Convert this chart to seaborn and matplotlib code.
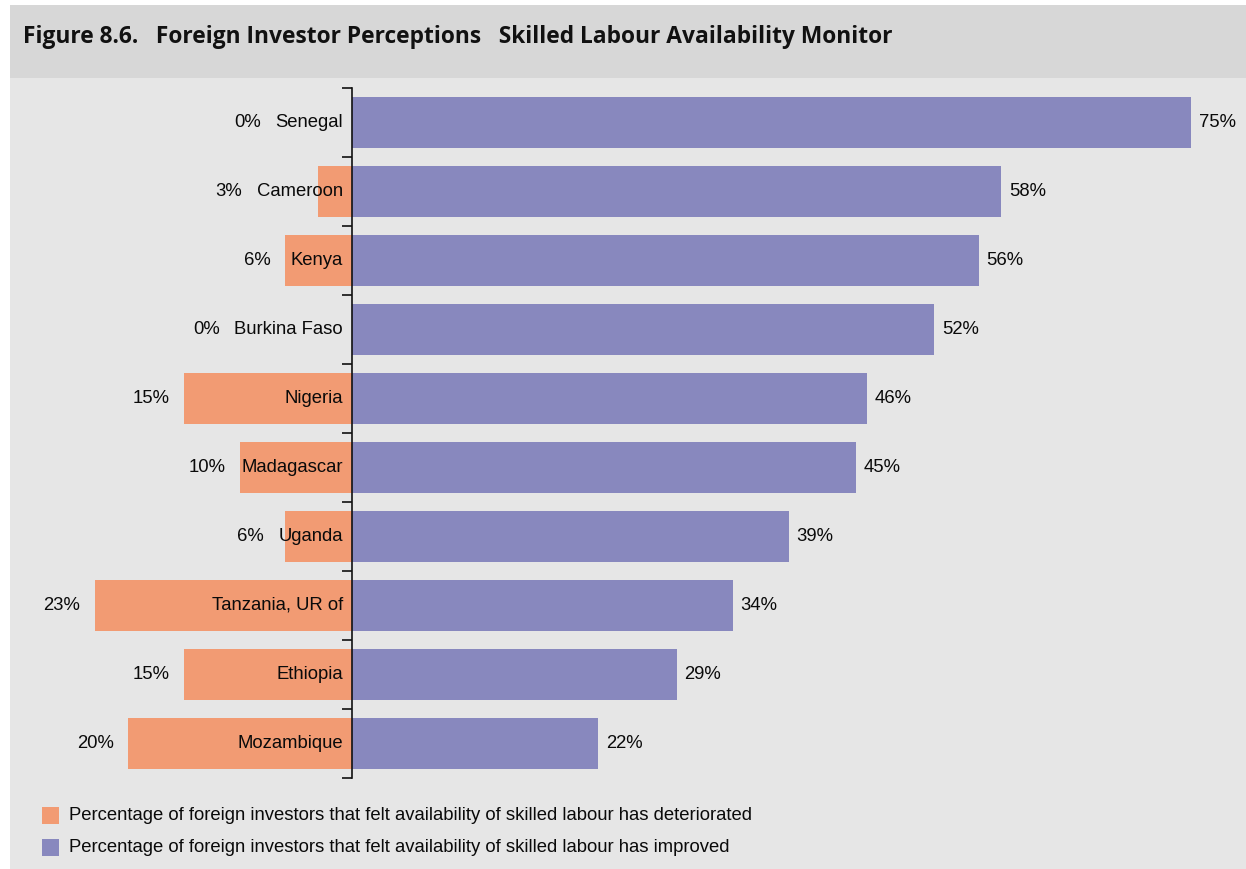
import matplotlib
matplotlib.use("Agg")
import matplotlib.pyplot as plt
import seaborn as sns
import pandas as pd
from matplotlib.patches import Rectangle

# data
countries = ["Senegal", "Cameroon", "Kenya", "Burkina Faso", "Nigeria",
             "Madagascar", "Uganda", "Tanzania, UR of", "Ethiopia", "Mozambique"]
improved = [75, 58, 56, 52, 46, 45, 39, 34, 29, 22]
deteriorated = [0, 3, 6, 0, 15, 10, 6, 23, 15, 20]

title = "Figure 8.6.   Foreign Investor Perceptions   Skilled Labour Availability Monitor"
lab_det = "Percentage of foreign investors that felt availability of skilled labour has deteriorated"
lab_imp = "Percentage of foreign investors that felt availability of skilled labour has improved"

orange = "#F29B73"
purple = "#8888BE"

df = pd.DataFrame({"country": countries, "improved": improved,
                   "deteriorated": [-d for d in deteriorated]})

sns.set_style("white")
plt.rcParams["font.family"] = ["Liberation Sans", "DejaVu Sans"]

fig = plt.figure(figsize=(12.46, 8.69), dpi=100)
W, H = 1246, 869
# background panels (behind the axes)
fig.patches.append(Rectangle((10 / W, 0), 1 - 10 / W, (H - 78) / H, transform=fig.transFigure,
                             facecolor="#E6E6E6", edgecolor="none", zorder=-2))
fig.patches.append(Rectangle((10 / W, (H - 78) / H), 1 - 10 / W, 73 / H, transform=fig.transFigure,
                             facecolor="#D7D7D7", edgecolor="none", zorder=-2))
fig.text(23 / W, 1 - 37 / H, title, fontsize=16.4, fontweight="bold", va="center", ha="left",
         family=["Open Sans", "DejaVu Sans"], color="#111111")

ax = fig.add_axes([38.7 / W, 91 / H, (1225 - 38.7) / W, 690 / H])
ax.patch.set_alpha(0)
sns.barplot(data=df, x="improved", y="country", orient="h", color=purple,
            width=0.75, saturation=1, linewidth=0, ax=ax)
sns.barplot(data=df, x="deteriorated", y="country", orient="h", color=orange,
            width=0.75, saturation=1, linewidth=0, ax=ax)
ax.set_xlim(-28, 78)
ax.set_ylim(len(countries) - 0.5, -0.5)

for s in ["top", "right", "bottom"]:
    ax.spines[s].set_visible(False)
ax.spines["left"].set_position(("data", 0))
ax.spines["left"].set_color("#111111")
ax.spines["left"].set_linewidth(1.2)
ax.spines["left"].set_zorder(5)
ax.set_xticks([])
ax.set_yticks([i - 0.5 for i in range(len(countries) + 1)])
ax.set_yticklabels([])
ax.tick_params(axis="y", direction="out", length=7, width=1.2, color="#111111", left=True)
ax.set_xlabel("")
ax.set_ylabel("")

fs = 13.3
fig.canvas.draw()
r = fig.canvas.get_renderer()
inv = ax.transData.inverted()
for i, c in enumerate(countries):
    t = ax.text(-0.8, i, c, ha="right", va="center", fontsize=fs, color="#0a0a0a", zorder=6)
    bb = t.get_window_extent(renderer=r)
    left = inv.transform((bb.x0, bb.y0))[0]
    xpos = min(left, -deteriorated[i]) - 1.3
    ax.text(xpos, i, f"{deteriorated[i]}%", ha="right", va="center", fontsize=fs, color="#0a0a0a")
    ax.text(improved[i] + 0.7, i, f"{improved[i]}%", ha="left", va="center", fontsize=fs, color="#0a0a0a")

# legend
for k, (lab, col) in enumerate([(lab_det, orange), (lab_imp, purple)]):
    yc = 1 - (815 + 32 * k) / H
    fig.patches.append(Rectangle((42 / W, yc - 8.5 / H), 17 / W, 17 / H, transform=fig.transFigure,
                                 facecolor=col, edgecolor="none", zorder=1))
    fig.text(69 / W, yc, lab, fontsize=fs, va="center", ha="left", color="#0a0a0a")

fig.savefig("out.png", dpi=100, facecolor="white")
